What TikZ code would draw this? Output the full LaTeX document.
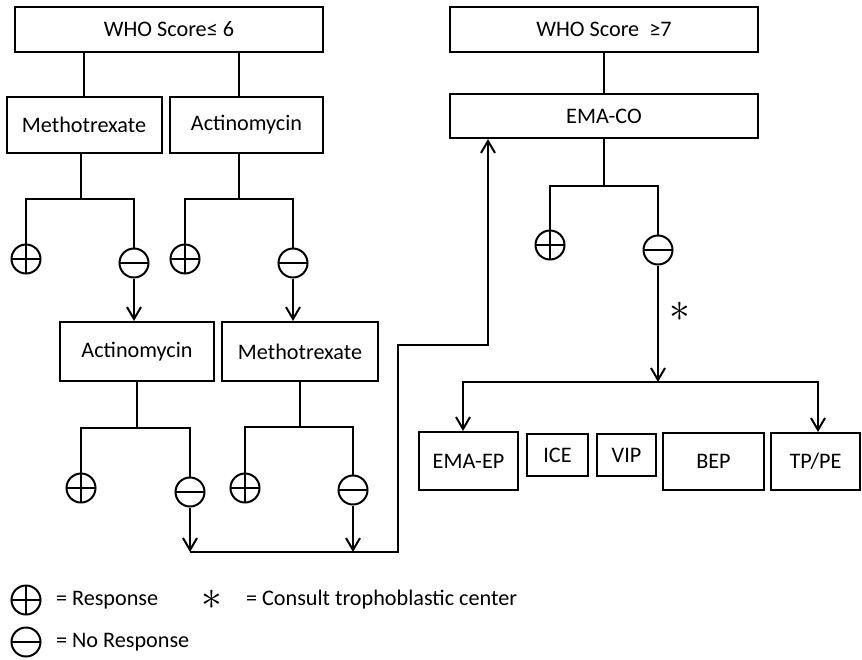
\documentclass[tikz,border=0pt]{standalone}
\usepackage{fontspec}
\setmainfont{Carlito}
\usetikzlibrary{arrows.meta}

\tikzstyle{score} = [rectangle, minimum width=154pt, minimum height=22.5pt, text centered, draw=black, fill=white]
\tikzstyle{drug} = [rectangle, minimum height=28pt, text centered, draw=black, fill=white]
\tikzstyle{signbase} = [circle, draw=black, minimum size=14.5pt, inner sep=0pt]
\tikzstyle{resp} = [signbase, path picture={\draw[line width=1pt] (path picture bounding box.north) -- (path picture bounding box.south) (path picture bounding box.west) -- (path picture bounding box.east);}]
\tikzstyle{noresp} = [signbase, path picture={\draw[line width=1pt] (path picture bounding box.west) -- (path picture bounding box.east);}]
\tikzstyle{starmark} = [font=\fontsize{20pt}{20pt}\selectfont, inner sep=0pt]
\tikzstyle{flow} = [-{Straight Barb[length=6pt,width=7pt]}]
\tikzstyle{link} = [-]

\begin{document}
\begin{tikzpicture}[x=0.5pt, y=-0.5pt, line width=1pt, font=\fontsize{11.1pt}{13pt}\selectfont]
      \useasboundingbox (0,0) rectangle (862,659);

      \node (who1) [score] at (169,29.5) {WHO Score≤ 6};
      \node (who2) [score] at (604,29.5) {WHO Score \ ≥7};
      \node (mtx1) [drug, minimum width=77.5pt] at (84,125) {Methotrexate};
      \node (act1) [drug, minimum width=76.5pt] at (246.5,125) {Actinomycin};
      \node (ema) [score, minimum height=22pt] at (604,116) {EMA-CO};
      \node (act2) [drug, minimum width=77pt, minimum height=29.5pt] at (137,351.5) {Actinomycin};
      \node (mtx2) [drug, minimum width=78pt, minimum height=29.5pt] at (300,351.5) {Methotrexate};
      \node (emaep) [drug, minimum width=49.5pt, minimum height=29pt] at (468.5,461) {EMA-EP};
      \node (ice) [drug, minimum width=30.5pt, minimum height=21pt] at (557.5,455) {ICE};
      \node (vip) [drug, minimum width=29.5pt, minimum height=21pt] at (626.5,455) {VIP};
      \node (bep) [drug, minimum width=50.5pt, minimum height=28.5pt] at (713.5,461.5) {BEP};
      \node (tppe) [drug, minimum width=44.5pt, minimum height=28.5pt] at (815.5,461.5) {TP/PE};

      \node (p1) [resp] at (26,259) {};
      \node (m1) [noresp] at (134,263) {};
      \node (p2) [resp] at (185,259) {};
      \node (m2) [noresp] at (293,263) {};
      \node (p3) [resp] at (81,488) {};
      \node (m3) [noresp] at (190,492) {};
      \node (p4) [resp] at (245,488) {};
      \node (m4) [noresp] at (353,490) {};
      \node (p5) [resp] at (550,245) {};
      \node (m5) [noresp] at (658,250) {};
      \node (star) [starmark] at (680,312) {$\ast$};

      \coordinate (j1) at (81,199);
      \coordinate (j2) at (239,199);
      \coordinate (j3) at (137,428);
      \coordinate (j4) at (300,427);
      \coordinate (j5) at (604,186);
      \coordinate (j6) at (658,382);
      \coordinate (l6) at (463,382);
      \coordinate (r6) at (818,382);
      \coordinate (k1) at (190,552);
      \coordinate (k2) at (353,552);
      \coordinate (b1) at (398,552);
      \coordinate (b2) at (398,345);
      \coordinate (b3) at (488,345);

      \draw [link] (who1.south -| mtx1) -- (mtx1);
      \draw [link] (who1.south -| j2) -- (act1.north -| j2);
      \draw [link] (mtx1.south -| j1) -- (j1);
      \draw [link] (act1.south -| j2) -- (j2);
      \draw [link] (p1) |- (j1) -| (m1);
      \draw [link] (p2) |- (j2) -| (m2);
      \draw [flow] (m1) -- (m1 |- act2.north);
      \draw [flow] (m2) -- (m2 |- mtx2.north);
      \draw [link] (act2) -- (j3);
      \draw [link] (mtx2) -- (j4);
      \draw [link] (p3) |- (j3) -| (m3);
      \draw [link] (p4) |- (j4) -| (m4);
      \draw [flow] (m3) -- (k1);
      \draw [flow] (m4) -- (k2);
      \draw [flow] (k1) -- (b1) -- (b2) -- (b3) -- (ema.south -| b3);

      \draw [link] (who2) -- (ema);
      \draw [link] (ema) -- (j5);
      \draw [link] (p5) |- (j5) -| (m5);
      \draw [flow] (m5) -- (j6);
      \draw [flow] (j6) -- (l6) -- (emaep.north -| l6);
      \draw [flow] (j6) -- (r6) -- (tppe.north -| r6);

      \node (pl) [resp] at (26,600) {};
      \node (ml) [noresp] at (26,642) {};
      \node (lresp) [anchor=west, inner sep=0pt] at (55,600) {= Response};
      \node (lnoresp) [anchor=west, inner sep=0pt] at (55,642) {= No Response};
      \node (lstar) [starmark] at (212,600) {$\ast$};
      \node (lcons) [anchor=west, inner sep=0pt] at (245,600) {= Consult trophoblastic center};
    \end{tikzpicture}
\end{document}
